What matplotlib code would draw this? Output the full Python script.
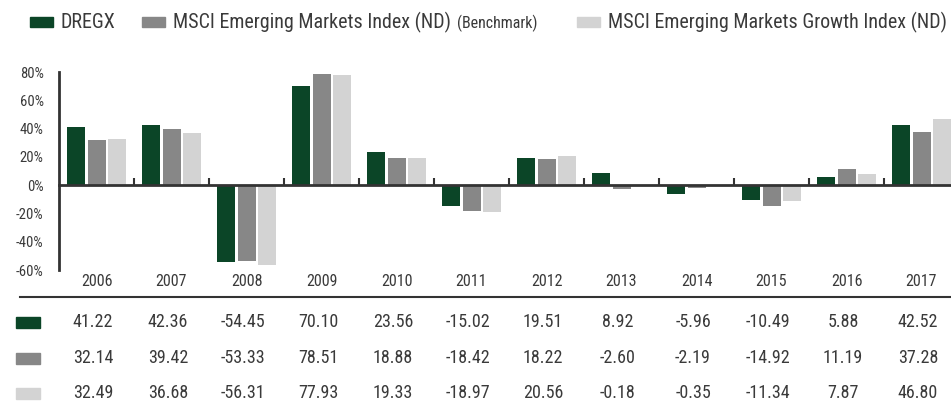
# 年度收益柱状图 + 数据表
import matplotlib
matplotlib.use('Agg')
import matplotlib.pyplot as plt
from matplotlib.patches import Rectangle
from matplotlib.transforms import blended_transform_factory, offset_copy
from matplotlib.ticker import FixedLocator, NullLocator

years = ['2006', '2007', '2008', '2009', '2010', '2011',
         '2012', '2013', '2014', '2015', '2016', '2017']
dregx = [41.22, 42.36, -54.45, 70.10, 23.56, -15.02,
         19.51, 8.92, -5.96, -10.49, 5.88, 42.52]
msci_em = [32.14, 39.42, -53.33, 78.51, 18.88, -18.42,
           18.22, -2.60, -2.19, -14.92, 11.19, 37.28]
msci_growth = [32.49, 36.68, -56.31, 77.93, 19.33, -18.97,
               20.56, -0.18, -0.35, -11.34, 7.87, 46.80]
series_names = ['DREGX', 'MSCI Emerging Markets Index (ND)',
                'MSCI Emerging Markets Growth Index (ND)']
yticks = [-60, -40, -20, 0, 20, 40, 60, 80]

colors = ['#0b4527', '#878787', '#d3d3d3']
txt = '#3a3a3a'
plt.rcParams['font.family'] = ['Roboto Condensed', 'Barlow Condensed',
                               'Archivo Narrow', 'DejaVu Sans']

W, H = 951, 405
fig = plt.figure(figsize=(W / 100, H / 100), dpi=100)

# 主图
ax = fig.add_axes([59 / W, (H - 270) / H, (W - 59) / W, 198 / H])
x = list(range(len(years)))
bw = 0.24
step = 0.2667
for k, vals in enumerate([dregx, msci_em, msci_growth]):
    ax.bar([i + (k - 1) * step for i in x], vals, width=bw, color=colors[k], zorder=2)

ax.set_ylim(-60, 80)
ax.set_xlim(-0.5, (W - 59) / 75 - 0.5)
ax.set_yticks(yticks)
ax.set_yticklabels([f'{v}%' for v in yticks], fontsize=10.5, color=txt)
ax.tick_params(axis='y', length=0, pad=11)

for s in ['top', 'right']:
    ax.spines[s].set_visible(False)
ax.spines['left'].set_linewidth(2)
ax.spines['left'].set_color('#333333')
ax.spines['bottom'].set_position(('data', 0))
ax.spines['bottom'].set_linewidth(2)
ax.spines['bottom'].set_color('#333333')
ax.spines['bottom'].set_zorder(3)
ax.xaxis.set_major_locator(NullLocator())
ax.xaxis.set_minor_locator(FixedLocator([i + 0.5 for i in x]))
ax.tick_params(axis='x', which='minor', direction='in', length=5, width=1.5,
               color='#333333')

# 年份标签、表格
tr = blended_transform_factory(ax.transData, fig.transFigure)
for i, y in enumerate(years):
    ax.text(i, 1 - 281.5 / H, y, transform=tr, ha='center', va='center',
            fontsize=11.5, color=txt, clip_on=False)

tr_tab = offset_copy(tr, fig=fig, x=-3.5, y=0, units='dots')
rows_y = [322, 358, 393]
for r, vals in enumerate([dregx, msci_em, msci_growth]):
    for i, v in enumerate(vals):
        ax.text(i, 1 - rows_y[r] / H, f'{v:.2f}', transform=tr_tab, ha='center',
                va='center', fontsize=13, color=txt, clip_on=False)

# 覆盖层: 图例、分隔线、表格色块
ov = fig.add_axes([0, 0, 1, 1])
ov.set_xlim(0, W)
ov.set_ylim(H, 0)
ov.axis('off')
ov.patch.set_alpha(0)

ov.plot([20, W], [297, 297], color='#333333', lw=1.5)
for r in range(3):
    ov.add_patch(Rectangle((16, rows_y[r] - 5.5), 24, 11, color=colors[r]))

leg_x = [30, 142, 577]
for k in range(3):
    ov.add_patch(Rectangle((leg_x[k], 17), 23, 10, color=colors[k]))
    t = ov.text(leg_x[k] + 31, 22, series_names[k], ha='left', va='center',
                fontsize=14.4, color=txt)
    if k == 1:
        fig.canvas.draw()
        bb = t.get_window_extent()
        ov.text(bb.x1 + 6, 23.5, '(Benchmark)', ha='left', va='center',
                fontsize=11.5, color=txt)

fig.savefig('out.png', dpi=100)
